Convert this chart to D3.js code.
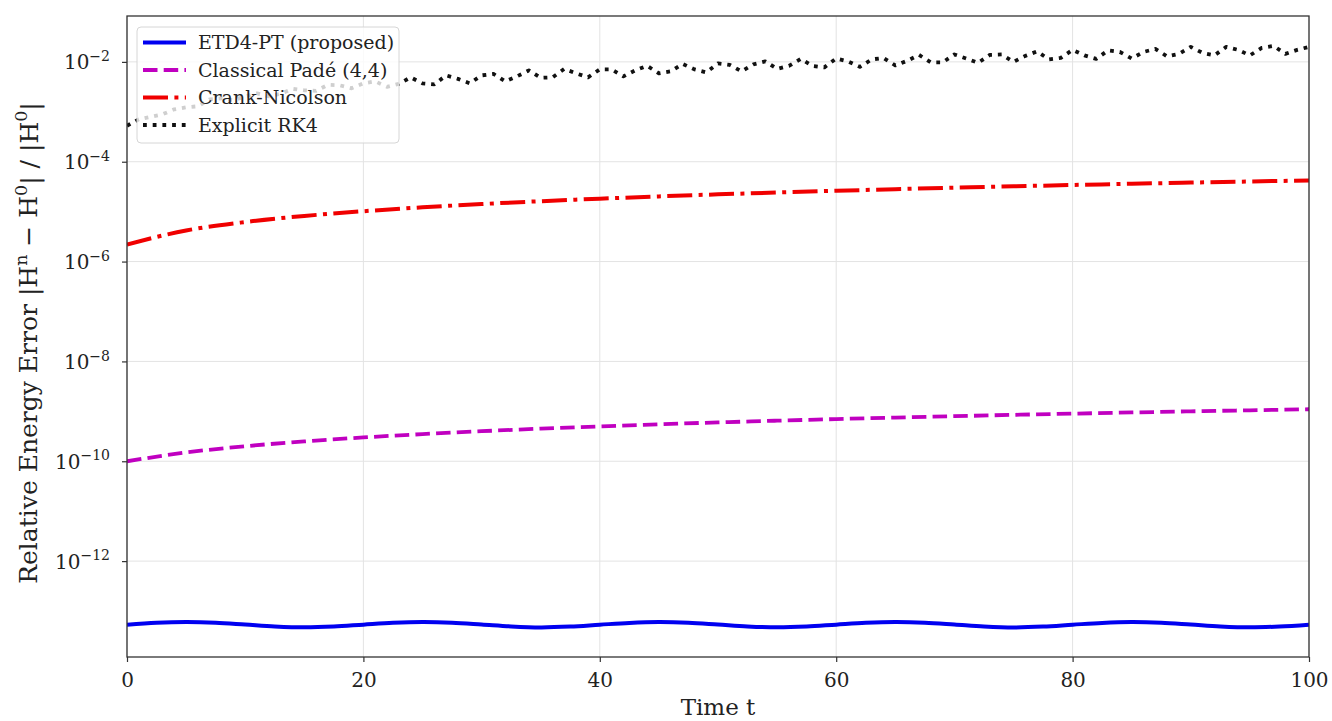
<!DOCTYPE html>
<html>
<head>
<meta charset="utf-8">
<script src="https://cdn.jsdelivr.net/npm/d3@7"></script>
<style>
  html, body { margin: 0; padding: 0; background: #fff; }
  svg { display: block; }
  text { font-family: "DejaVu Serif", serif; fill: #222; }
</style>
</head>
<body>
<svg id="chart" width="1332" height="721"></svg>
<script>
// ---------------- data ----------------
const seriesNames = ["ETD4-PT (proposed)", "Classical Padé (4,4)", "Crank-Nicolson", "Explicit RK4"];

const etdTime = [0,2.5,5,7.5,10,12.5,15,17.5,20,22.5,25,27.5,30,32.5,35,37.5,40,42.5,45,47.5,50,52.5,55,57.5,60,62.5,65,67.5,70,72.5,75,77.5,80,82.5,85,87.5,90,92.5,95,97.5,100];
const etdValues = [5.30e-14,5.80e-14,6.00e-14,5.82e-14,5.36e-14,4.92e-14,4.72e-14,4.90e-14,5.34e-14,5.80e-14,6.02e-14,5.84e-14,5.38e-14,4.92e-14,4.70e-14,4.88e-14,5.32e-14,5.78e-14,6.00e-14,5.82e-14,5.36e-14,4.92e-14,4.72e-14,4.90e-14,5.34e-14,5.80e-14,6.02e-14,5.84e-14,5.38e-14,4.92e-14,4.70e-14,4.88e-14,5.32e-14,5.78e-14,6.00e-14,5.82e-14,5.36e-14,4.92e-14,4.72e-14,4.90e-14,5.34e-14];

const smoothTime = [0,5,10,15,20,25,30,35,40,45,50,55,60,65,70,75,80,85,90,95,100];
const padeValues = [1.0e-10,1.5e-10,2.0e-10,2.5e-10,3.0e-10,3.5e-10,4.0e-10,4.5e-10,5.0e-10,5.5e-10,6.0e-10,6.5e-10,7.0e-10,7.5e-10,8.0e-10,8.5e-10,9.0e-10,9.5e-10,1.0e-9,1.05e-9,1.1e-9];
const cnValues = [2.2e-6,4.2e-6,6.2e-6,8.2e-6,1.02e-5,1.22e-5,1.42e-5,1.62e-5,1.82e-5,2.02e-5,2.22e-5,2.42e-5,2.62e-5,2.82e-5,3.02e-5,3.22e-5,3.42e-5,3.62e-5,3.82e-5,4.02e-5,4.22e-5];

const rk4Time = d3.range(0, 101, 1);
const rk4Values = [
  5.25e-4,7.08e-4,7.94e-4,8.91e-4,1.12e-3,1.23e-3,1.29e-3,1.78e-3,1.86e-3,1.70e-3,
  2.04e-3,2.34e-3,2.04e-3,2.29e-3,2.88e-3,2.69e-3,2.63e-3,3.47e-3,3.39e-3,2.95e-3,
  3.72e-3,4.07e-3,3.16e-3,3.63e-3,4.90e-3,3.72e-3,3.55e-3,5.37e-3,4.57e-3,3.72e-3,
  5.37e-3,5.75e-3,4.07e-3,5.13e-3,6.76e-3,4.79e-3,4.90e-3,7.24e-3,5.89e-3,4.90e-3,
  7.08e-3,7.08e-3,5.13e-3,6.76e-3,8.32e-3,5.89e-3,6.46e-3,9.12e-3,7.08e-3,6.17e-3,
  9.33e-3,8.71e-3,6.46e-3,8.91e-3,1.02e-2,7.24e-3,8.32e-3,1.15e-2,8.32e-3,7.76e-3,
  1.17e-2,1.02e-2,7.94e-3,1.12e-2,1.20e-2,8.51e-3,1.05e-2,1.38e-2,9.77e-3,9.77e-3,
  1.41e-2,1.17e-2,9.55e-3,1.38e-2,1.41e-2,1.00e-2,1.32e-2,1.62e-2,1.12e-2,1.20e-2,
  1.74e-2,1.35e-2,1.15e-2,1.70e-2,1.58e-2,1.17e-2,1.58e-2,1.82e-2,1.29e-2,1.45e-2,
  2.00e-2,1.51e-2,1.35e-2,2.00e-2,1.74e-2,1.35e-2,1.91e-2,2.09e-2,1.45e-2,1.74e-2,
  2.00e-2
];

const xTicks = [0,20,40,60,80,100];
const yTickExponents = [-2,-4,-6,-8,-10,-12];
const xDomain = [0, 100];
const yDomain = [1.2e-14, 8.3e-2];

// ---------------- layout ----------------
const svg = d3.select("#chart");
const margin = {left: 127, right: 1332 - 1309, top: 16, bottom: 721 - 657};
const W = 1332, H = 721;
const x = d3.scaleLinear().domain(xDomain).range([margin.left, W - margin.right]);
const y = d3.scaleLog().domain(yDomain).range([H - margin.bottom, margin.top]);

const gridColor = "#e3e3e3";
// grid
svg.append("g").selectAll("line").data(xTicks).join("line")
  .attr("x1", d => x(d)).attr("x2", d => x(d))
  .attr("y1", margin.top).attr("y2", H - margin.bottom)
  .attr("stroke", gridColor).attr("stroke-width", 1);
svg.append("g").selectAll("line").data(yTickExponents).join("line")
  .attr("x1", margin.left).attr("x2", W - margin.right)
  .attr("y1", d => y(Math.pow(10, d))).attr("y2", d => y(Math.pow(10, d)))
  .attr("stroke", gridColor).attr("stroke-width", 1);

// clip
svg.append("clipPath").attr("id", "plotclip").append("rect")
  .attr("x", margin.left).attr("y", margin.top)
  .attr("width", W - margin.left - margin.right).attr("height", H - margin.top - margin.bottom);

const plot = svg.append("g").attr("clip-path", "url(#plotclip)");

const styles = [
  {color: "#0000f0", width: 4, dash: null, cap: "butt"},
  {color: "#c000c0", width: 3.8, dash: "14.5,6.2", cap: "butt"},
  {color: "#f00000", width: 4, dash: "25,6.4,4,6.4", cap: "butt"},
  {color: "#111111", width: 3.8, dash: "3.8,5.9", cap: "butt"}
];

const series = [
  {t: etdTime, v: etdValues, curve: d3.curveCatmullRom},
  {t: smoothTime, v: padeValues, curve: d3.curveMonotoneX},
  {t: smoothTime, v: cnValues, curve: d3.curveMonotoneX},
  {t: rk4Time, v: rk4Values, curve: d3.curveLinear}
];

series.forEach((s, i) => {
  const pts = s.t.map((t, k) => [t, s.v[k]]);
  const line = d3.line().x(d => x(d[0])).y(d => y(d[1])).curve(s.curve);
  plot.append("path").datum(pts)
    .attr("d", line)
    .attr("fill", "none")
    .attr("stroke", styles[i].color)
    .attr("stroke-width", styles[i].width)
    .attr("stroke-dasharray", styles[i].dash)
    .attr("stroke-linecap", styles[i].cap)
    .attr("stroke-linejoin", "round");
});

// frame
svg.append("rect")
  .attr("x", margin.left).attr("y", margin.top)
  .attr("width", W - margin.left - margin.right).attr("height", H - margin.top - margin.bottom)
  .attr("fill", "none").attr("stroke", "#333").attr("stroke-width", 1.3);

// x axis
const xAxis = d3.axisBottom(x).tickValues(xTicks).tickSize(5).tickPadding(11).tickFormat(d3.format("d"));
const gx = svg.append("g").attr("transform", `translate(0,${H - margin.bottom})`).call(xAxis);
gx.select(".domain").remove();
gx.selectAll(".tick line").attr("stroke", "#333").attr("stroke-width", 1.2);
gx.selectAll(".tick text").attr("font-family", "DejaVu Serif").attr("font-size", 20).attr("fill", "#222");

// y axis
const yAxis = d3.axisLeft(y).tickValues(yTickExponents.map(e => Math.pow(10, e))).tickSize(5).tickPadding(12).tickFormat(() => "");
const gy = svg.append("g").attr("transform", `translate(${margin.left},0)`).call(yAxis);
gy.select(".domain").remove();
gy.selectAll(".tick line").attr("stroke", "#333").attr("stroke-width", 1.2);
gy.selectAll(".tick text").each(function(d) {
  const e = Math.round(Math.log10(d));
  const t = d3.select(this).attr("font-family", "DejaVu Serif").attr("font-size", 20).attr("fill", "#222").attr("dy", "0.35em");
  t.text(null);
  t.append("tspan").text("10");
  t.append("tspan").attr("font-size", 14).attr("dy", "-0.6em").text("\u2212" + Math.abs(e));
});

// axis titles
svg.append("text")
  .attr("x", x(50)).attr("y", 715)
  .attr("text-anchor", "middle").attr("font-size", 23)
  .text("Time t");

const yl = svg.append("text")
  .attr("transform", `translate(37,343) rotate(-90)`)
  .attr("text-anchor", "middle").attr("font-size", 25);
yl.append("tspan").text("Relative Energy Error  |H");
yl.append("tspan").attr("font-size", 17.5).attr("dy", "-0.6em").text("n");
yl.append("tspan").attr("dy", "0.43em").text(" \u2212 H");
yl.append("tspan").attr("font-size", 17.5).attr("dy", "-0.6em").text("0");
yl.append("tspan").attr("dy", "0.43em").text("| / |H");
yl.append("tspan").attr("font-size", 17.5).attr("dy", "-0.6em").text("0");
yl.append("tspan").attr("dy", "0.43em").text("|");

// legend
const lg = svg.append("g");
lg.append("rect")
  .attr("x", 137).attr("y", 27).attr("width", 262).attr("height", 116)
  .attr("rx", 4).attr("ry", 4)
  .attr("fill", "#fff").attr("fill-opacity", 0.8)
  .attr("stroke", "#d6d6d6").attr("stroke-width", 1);
const legendRows = [42.5, 70, 97.5, 125];
seriesNames.forEach((name, i) => {
  const yy = legendRows[i];
  lg.append("line")
    .attr("x1", 143).attr("x2", 186).attr("y1", yy).attr("y2", yy)
    .attr("stroke", styles[i].color).attr("stroke-width", styles[i].width)
    .attr("stroke-dasharray", styles[i].dash).attr("stroke-linecap", styles[i].cap);
  lg.append("text").attr("x", 198).attr("y", yy).attr("dy", "0.35em")
    .attr("font-size", 19).text(name);
});
</script>
</body>
</html>
